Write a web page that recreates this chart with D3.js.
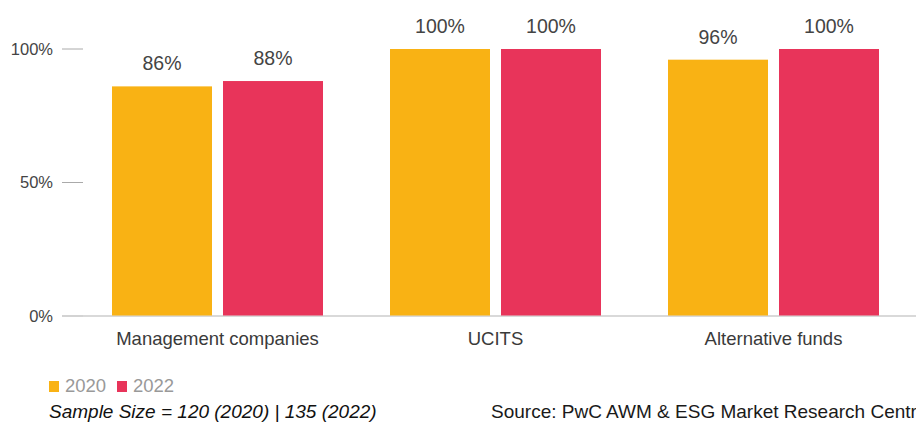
<!DOCTYPE html>
<html><head><meta charset="utf-8">
<script src="https://cdn.jsdelivr.net/npm/d3@7"></script>
<style>
body{margin:0;background:#fff;overflow:hidden;}
svg{display:block;font-family:"Liberation Sans",Arial,Helvetica,sans-serif;}
</style></head>
<body>
<svg id="chart" width="916" height="423"></svg>
<script>
const categories = ["Management companies", "UCITS", "Alternative funds"];
const seriesNames = ["2020", "2022"];
const values2020 = [86, 100, 96];
const values2022 = [88, 100, 100];
const yTicks = [0, 50, 100];
const colors = ["#F9B214", "#E8345A"];

const svg = d3.select("#chart");
const x0 = d3.scaleBand().domain(categories).range([78.5, 912.5]).paddingInner(0).paddingOuter(0);
const y = d3.scaleLinear().domain([0, 100]).range([316, 49]);
const barW = 100, gap = 11;
const x1 = d3.scaleOrdinal().domain(seriesNames).range([-(barW + gap / 2) , gap / 2]);

// y ticks
const yAxis = svg.append("g");
yTicks.forEach(t => {
  yAxis.append("line").attr("x1", 62).attr("x2", 83).attr("y1", y(t)).attr("y2", y(t))
    .attr("stroke", t === 0 ? "#cccccc" : "#aaaaaa").attr("stroke-width", 1);
  yAxis.append("text").attr("x", 53).attr("y", y(t)).attr("dy", "0.35em")
    .attr("text-anchor", "end").attr("font-size", 16.5).attr("fill", "#444")
    .text(t + "%");
});
// baseline
svg.append("line").attr("x1", 62).attr("x2", 916).attr("y1", y(0)).attr("y2", y(0))
  .attr("stroke", "#cccccc").attr("stroke-width", 1.5);

const data = [];
categories.forEach((c, i) => {
  data.push({cat: c, s: "2020", v: values2020[i], col: colors[0]});
  data.push({cat: c, s: "2022", v: values2022[i], col: colors[1]});
});

const g = svg.append("g");
g.selectAll("rect").data(data).join("rect")
  .attr("x", d => x0(d.cat) + x0.bandwidth() / 2 + x1(d.s))
  .attr("width", barW)
  .attr("y", d => y(d.v))
  .attr("height", d => y(0) - 0.5 - y(d.v))
  .attr("fill", d => d.col);

g.selectAll("text.val").data(data).join("text").attr("class", "val")
  .attr("x", d => x0(d.cat) + x0.bandwidth() / 2 + x1(d.s) + barW / 2)
  .attr("y", d => y(d.v) - 16)
  .attr("text-anchor", "middle").attr("font-size", 19.5).attr("fill", "#444")
  .text(d => d.v + "%");

// category labels
svg.selectAll("text.cat").data(categories).join("text").attr("class", "cat")
  .attr("x", d => x0(d) + x0.bandwidth() / 2)
  .attr("y", 345)
  .attr("text-anchor", "middle").attr("font-size", 18.5).attr("fill", "#3a3a3a")
  .text(d => d);

// legend
const leg = svg.append("g");
seriesNames.forEach((s, i) => {
  const lx = 49 + i * 68;
  leg.append("rect").attr("x", lx).attr("y", 381).attr("width", 10).attr("height", 11).attr("fill", colors[i]);
  leg.append("text").attr("x", lx + 16).attr("y", 392).attr("font-size", 18.5).attr("fill", "#999").text(s);
});

svg.append("text").attr("x", 49).attr("y", 418).attr("font-size", 19).attr("font-style", "italic")
  .attr("fill", "#111").text("Sample Size = 120 (2020) | 135 (2022)");
svg.append("text").attr("x", 491).attr("y", 418).attr("font-size", 19)
  .attr("fill", "#1a1a1a").text("Source: PwC AWM & ESG Market Research Centre");
</script>
</body></html>
